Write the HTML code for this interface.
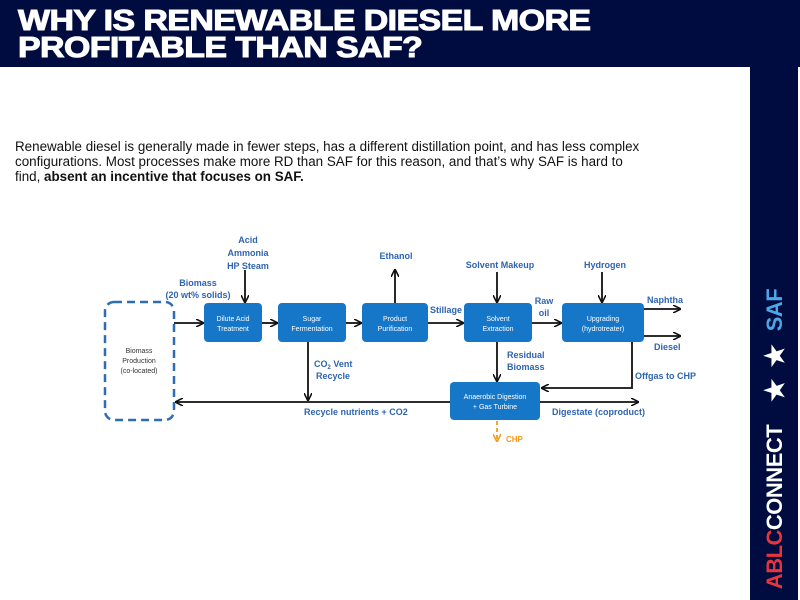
<!DOCTYPE html>
<html><head><meta charset="utf-8"><style>
body{margin:0;width:800px;height:600px;position:relative;overflow:hidden;background:#fff;font-family:"Liberation Sans",sans-serif}
.hdr{position:absolute;left:0;top:0;width:800px;height:67px;background:#000c40}
.side{position:absolute;left:750px;top:0;width:48px;height:600px;background:#000c40}
.t{position:absolute;left:18px;color:#fff;font-weight:bold;font-size:29px;line-height:25px;transform-origin:0 0;white-space:nowrap;letter-spacing:-0.5px;-webkit-text-stroke:1px #fff}
p{position:absolute;left:15px;top:139px;width:630px;margin:0;font-size:13.4px;line-height:15px;color:#111}
.rot{position:absolute;left:775px;transform:translate(-50%,-50%) rotate(-90deg);white-space:nowrap;font-weight:bold;font-size:22px;letter-spacing:-0.5px}
</style></head><body>
<div class="hdr"></div><div class="side"></div>
<div class="t" style="top:9px;transform:scaleX(1.17)">WHY IS RENEWABLE DIESEL MORE</div>
<div class="t" style="top:36px;transform:scaleX(1.17)">PROFITABLE THAN SAF?</div>
<p>Renewable diesel is generally made in fewer steps, has a different distillation point, and has less complex configurations. Most processes make more RD than SAF for this reason, and that’s why SAF is hard to find, <b>absent an incentive that focuses on SAF.</b></p>
<div class="rot" style="top:310px;color:#4aa8e8">SAF</div>
<div class="rot" style="top:372px;color:#fff;font-size:26px;letter-spacing:2px">★ ★</div>
<div class="rot" style="top:507px;color:#fff"><span style="color:#e8343a">ABLC</span>CONNECT</div>
<svg width="800" height="600" style="position:absolute;left:0;top:0" font-family="Liberation Sans" font-weight="bold">
<defs><marker id="a" markerWidth="8" markerHeight="8" refX="7" refY="4" orient="auto" markerUnits="userSpaceOnUse"><path d="M0,0 L8,4 L0,8" fill="none" stroke="#111" stroke-width="1.6"/></marker>
<marker id="o" markerWidth="8" markerHeight="8" refX="7" refY="4" orient="auto" markerUnits="userSpaceOnUse"><path d="M0,0 L8,4 L0,8" fill="none" stroke="#f29a1f" stroke-width="1.6"/></marker></defs>
<rect x="105" y="302" width="69" height="118" rx="9" fill="none" stroke="#2e6db4" stroke-width="2.5" stroke-dasharray="8,5"/>
<g fill="#1677c8">
<rect x="204" y="303" width="58" height="39" rx="4"/><rect x="278" y="303" width="68" height="39" rx="4"/>
<rect x="362" y="303" width="66" height="39" rx="4"/><rect x="464" y="303" width="68" height="39" rx="4"/>
<rect x="562" y="303" width="82" height="39" rx="4"/><rect x="450" y="382" width="90" height="38" rx="4"/></g>
<g stroke="#111" stroke-width="1.8" fill="none" marker-end="url(#a)">
<path d="M174 323H203"/><path d="M262 323H277"/><path d="M346 323H361"/><path d="M428 323H463"/><path d="M532 323H561"/>
<path d="M644 309H680"/><path d="M644 336H680"/><path d="M245 270V302"/><path d="M395 303V270"/>
<path d="M497 272V302"/><path d="M602 272V302"/><path d="M497 342V381"/><path d="M308 342V400"/>
<path d="M450 402H176"/><path d="M632 342V388H542"/><path d="M540 402H638"/></g>
<path d="M497 421V441" stroke="#f29a1f" stroke-width="1.8" stroke-dasharray="4,3" fill="none" marker-end="url(#o)"/>
<g fill="#fff" font-size="7" text-anchor="middle" font-weight="normal">
<text x="233" y="321">Dilute Acid</text><text x="233" y="331">Treatment</text>
<text x="312" y="321">Sugar</text><text x="312" y="331">Fermentation</text>
<text x="395" y="321">Product</text><text x="395" y="331">Purification</text>
<text x="498" y="321">Solvent</text><text x="498" y="331">Extraction</text>
<text x="603" y="321">Upgrading</text><text x="603" y="331">(hydrotreater)</text>
<text x="495" y="399">Anaerobic  Digestion</text><text x="495" y="409">+ Gas Turbine</text></g>
<g fill="#333" font-size="7" text-anchor="middle" font-weight="normal">
<text x="139" y="353">Biomass</text><text x="139" y="363">Production</text><text x="139" y="373">(co-located)</text></g>
<g fill="#2f64b0" font-size="9">
<g text-anchor="middle"><text x="248" y="243">Acid</text><text x="248" y="256">Ammonia</text><text x="248" y="269">HP Steam</text>
<text x="198" y="286">Biomass</text><text x="198" y="298">(20 wt% solids)</text>
<text x="396" y="259">Ethanol</text><text x="500" y="268">Solvent Makeup</text><text x="605" y="268">Hydrogen</text>
<text x="544" y="304">Raw</text><text x="544" y="316">oil</text></g>
<text x="430" y="313">Stillage</text><text x="647" y="303">Naphtha</text><text x="654" y="350">Diesel</text>
<text x="314" y="367">CO<tspan font-size="6" dy="2">2</tspan><tspan dy="-2"> Vent</tspan></text><text x="316" y="379">Recycle</text>
<text x="507" y="358">Residual</text><text x="507" y="370">Biomass</text><text x="635" y="379">Offgas to CHP</text>
<text x="304" y="415">Recycle  nutrients + CO2</text><text x="552" y="415">Digestate (coproduct)</text>
<text x="506" y="442" fill="#f29a1f" font-size="8">CHP</text></g>
</svg>
</body></html>
